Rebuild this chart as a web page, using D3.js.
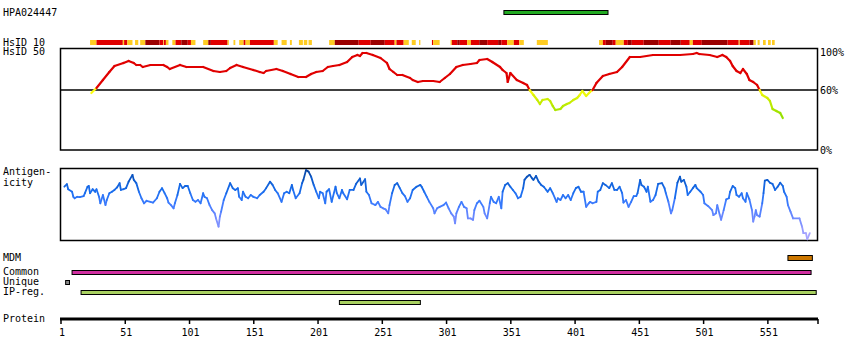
<!DOCTYPE html>
<html><head><meta charset="utf-8">
<script src="https://cdn.jsdelivr.net/npm/d3@7"></script>
<style>
body{margin:0;background:#fff}
svg{display:block}
text{font-family:"DejaVu Sans Mono",monospace;font-size:10px;fill:#000}
</style>
</head><body>
<svg id="chart" width="850" height="360"></svg>
<script>
// ---------- data ----------
const proteinLength = 590;
const tickResidues = [1, 51, 101, 151, 201, 251, 301, 351, 401, 451, 501, 551];
const antibodyName = "HPA024447";
const antibodyRanges = [[346, 427]];
const identityTicks = [100, 60, 0];
const identityThreshold = 60;
// HsID 10 blocks: [start, end, level] level 1 = low, 2 = mid, 3 = high
const hsid10 = [
  [24,29,1],[29,49.5,2],[49.5,50.5,1],[50.5,53,2],[53,57,1],[59,61.5,1],[63,67,1],[67,78,3],[78,81,2],[81,81.5,1],
  [81.5,83,2],[83,85,1],[88,90.5,1],[90.5,95,2],[95,100,3],[100,102.5,2],[102.5,106,1],[112,116,1],[116,118,3],
  [118,131,2],[131,132,1],[135.6,137,1],[140,143.5,1],[143.5,145,2],[145,148.4,1],[148.4,167,2],[167,170,1],
  [173,177,1],[179.5,181,1],[186.5,189.6,1],[190.3,193,1],[194,196.6,1],[210,214.4,1],[214.4,233,3],[233,242.4,2],
  [242.4,253.3,3],[253.3,261,2],[261,262.4,1],[262.4,268,2],[268,272,1],[274.3,277.4,1],[280,281,1],[290,291,2],
  [291,296,1],[304.5,305.5,1],[305.5,309.7,2],[309.7,311.7,3],[311.7,317.4,2],[317.4,320.3,1],[320.3,326.8,2],
  [326.8,333,3],[333,341.5,2],[341.5,344,3],[344,348.5,2],[348.5,353.7,1],[353.7,358,2],[358,361.5,1],
  [371.6,380.2,1],[420,423,1],[423,425.3,2],[425.3,430.7,3],[430.7,433,2],[433,439.3,1],[439.3,442.4,2],
  [442.4,445.5,3],[445.5,454.8,2],[454.8,466.5,3],[466.5,475.8,2],[475.8,483.6,3],[483.6,490.6,2],[490.6,493,1],
  [493,500,2],[500,520,3],[520,528.7,2],[528.7,529.5,1],[529.5,537.2,2],[537.2,540.3,3],[540.3,542,1],
  [543.4,545,1],[547.6,549.7,1],[551.5,553.6,1],[554.6,556.7,1]
];
// HsID 50 identity (%) by residue
const identity = [
  [25,57],[29,62],[34,70],[39,78],[43,84],[50,87],[54,89],[58,87],[60,85],[63,85],[65,83],[71,85],[81,85],[84,83],
  [86,81],[94,85],[99,83],[112,83],[120,79],[125,78],[130,79],[133,82],[138,85],[143,83],[151,80],[156,78],
  [159,77],[161,79],[169,81],[174,79],[180,76],[186,73],[192,73],[196,76],[200,78],[205,79],[209,83],[213,84],
  [218,85],[224,88],[228,93],[232,95],[234,94],[236,97],[239,97],[244,95],[250,92],[255,87],[257,81],[260,78],
  [263,75],[267,75],[273,72],[275,70],[279,68],[283,69],[291,69],[296,68],[300,72],[304,76],[309,83],[314,85],
  [320,86],[325,87],[327,90],[333,91],[337,88],[343,83],[345,80],[348,77],[349,68],[351,77],[356,70],[361,67],
  [364,65],[366,60],[369,55],[372,50],[374,46],[376,50],[380,51],[382,49],[384,44],[386,40],[390,41],[392,44],
  [395,46],[397,47],[400,50],[403,52],[405,55],[407,59],[410,54],[413,58],[415,60],[418,67],[423,74],[428,76],
  [434,78],[438,83],[444,93],[452,93],[462,95],[473,95],[483,95],[493,96],[496,97],[498,96],[506,95],[512,93],
  [516,95],[519,93],[522,89],[524,84],[527,79],[530,77],[532,81],[535,76],[537,70],[540,68],[543,65],[545,60],
  [547,55],[551,52],[553,49],[555,41],[558,39],[561,37],[563,32]
];
// Antigenicity score by residue
const antigenicity = [
  [4,0.48],[6,0.55],[7,0.41],[10,0.34],[11,0.20],[12,0.16],[14,0.20],[16,0.19],[19,0.22],[20,0.30],[22,0.48],[23,0.50],
  [24,0.30],[26,0.41],[28,0.34],[29,0.41],[31,0.20],[32,0.02],[34,0.25],[36,-0.03],[37,0.11],[39,0.30],[41,0.34],
  [43,0.39],[45,0.46],[47,0.58],[48,0.39],[50,0.41],[52,0.44],[54,0.62],[57,0.81],[58,0.67],[60,0.58],[62,0.34],
  [64,0.16],[66,0.02],[68,0.09],[71,0.06],[73,0.04],[76,0.16],[78,0.34],[80,0.44],[82,0.30],[84,0.16],[85,0.04],
  [87,-0.03],[89,-0.12],[90,0.02],[92,0.25],[94,0.56],[96,0.44],[98,0.50],[100,0.50],[102,0.30],[104,0.11],[106,0.06],
  [108,0.11],[110,0.02],[112,0.30],[113,0.20],[115,0.16],[117,-0.03],[119,-0.17],[121,-0.26],[122,-0.40],[124,-0.63],
  [125,-0.35],[126,-0.21],[128,0.11],[130,0.30],[133,0.58],[135,0.44],[137,0.39],[139,0.44],[140,0.20],[142,0.11],
  [143,0.34],[145,0.20],[147,0.16],[149,0.25],[151,0.20],[154,0.16],[156,0.25],[159,0.34],[161,0.44],[164,0.62],
  [166,0.53],[168,0.39],[170,0.30],[173,0.06],[175,0.30],[177,0.34],[179,0.30],[181,0.53],[182,0.39],[184,0.16],
  [187,0.30],[189,0.58],[190,0.67],[192,0.94],[194,0.90],[196,0.76],[198,0.53],[200,0.34],[202,0.16],[203,0.34],
  [205,0.30],[207,0.02],[208,0.34],[210,0.41],[212,0.06],[215,0.48],[216,0.30],[218,0.16],[220,0.39],[221,0.30],
  [224,0.13],[226,0.39],[229,0.39],[231,0.56],[234,0.71],[235,0.53],[238,0.69],[239,0.34],[241,0.25],[243,0.02],
  [246,-0.03],[248,0.06],[250,-0.08],[252,-0.12],[254,-0.15],[256,-0.26],[257,-0.03],[259,0.30],[261,0.53],[263,0.58],
  [265,0.44],[267,0.30],[269,0.22],[271,0.06],[273,0.16],[275,0.39],[278,0.48],[281,0.53],[282,0.48],[284,0.34],
  [286,0.20],[288,0.06],[291,-0.12],[292,-0.26],[294,-0.12],[296,-0.08],[299,-0.03],[301,0.04],[303,-0.12],[305,-0.26],
  [307,-0.35],[308,-0.54],[309,-0.26],[311,-0.08],[313,0.06],[315,-0.08],[317,-0.12],[318,-0.40],[320,-0.40],[322,-0.44],
  [323,-0.17],[325,0.02],[327,0.09],[330,-0.08],[331,-0.26],[333,-0.40],[335,0.02],[336,0.20],[338,0.06],[340,0.02],
  [342,0.20],[344,-0.12],[345,0.34],[347,0.53],[349,0.58],[351,0.48],[353,0.39],[355,0.30],[357,0.16],[359,0.20],
  [361,0.44],[362,0.67],[364,0.76],[366,0.81],[368,0.71],[369,0.67],[371,0.78],[373,0.62],[375,0.53],[377,0.48],
  [379,0.39],[380,0.34],[382,0.44],[384,0.30],[387,0.06],[388,0.16],[390,0.11],[392,0.25],[394,0.16],[396,0.25],
  [398,0.11],[400,0.30],[402,0.44],[404,0.48],[406,0.34],[408,0.34],[410,-0.08],[412,0.02],[413,0.06],[415,0.02],
  [418,0.06],[419,0.34],[421,0.39],[423,0.58],[425,0.53],[428,0.44],[430,0.58],[432,0.39],[434,0.39],[436,0.48],
  [438,0.30],[439,0.04],[441,0.11],[443,-0.08],[445,0.06],[447,0.22],[449,0.22],[450,0.30],[452,0.67],[453,0.53],
  [455,0.48],[457,0.34],[458,0.48],[460,0.06],[462,0.11],[464,0.25],[466,0.56],[469,0.58],[471,0.44],[472,0.30],
  [474,0.06],[476,-0.26],[477,-0.17],[479,0.16],[481,0.59],[483,0.76],[484,0.62],[486,0.67],[488,0.48],[489,0.25],
  [491,0.34],[493,0.44],[495,0.53],[496,0.44],[499,0.34],[501,0.25],[502,0.02],[505,-0.06],[508,-0.17],[509,-0.31],
  [511,-0.26],[512,-0.03],[514,-0.31],[515,-0.44],[517,-0.17],[519,0.13],[521,0.16],[522,0.34],[524,0.50],[526,0.44],
  [527,0.25],[529,0.20],[531,0.30],[532,0.16],[534,0.06],[535,0.30],[537,0.13],[539,-0.17],[540,-0.49],[541,-0.35],
  [542,-0.17],[543,-0.31],[545,-0.35],[547,0.02],[548,0.30],[549,0.65],[551,0.67],[553,0.59],[555,0.56],[557,0.39],
  [559,0.48],[561,0.59],[563,0.50],[564,0.34],[566,0.20],[567,-0.03],[569,-0.21],[571,-0.40],[576,-0.40],[578,-0.63],
  [579,-0.81],[581,-0.81],[582,-0.98],[584,-0.81]
];
const mdmRanges = [[567, 586]];
const commonRanges = [[10, 585]];
const uniqueRanges = [[5, 8]];
const ipRegRanges = [[17, 589], [218, 281]];

// ---------- drawing ----------
const svg = d3.select("#chart");
const x = d3.scaleLinear().domain([1, proteinLength]).range([60.5, 817.5]);

// labels on left
const labels = [
  [antibodyName, 16], ["HsID 10", 45.5], ["HsID 50", 55], ["Antigen-", 175], ["icity", 185.5],
  ["MDM", 261], ["Common", 275], ["Unique", 285], ["IP-reg.", 295], ["Protein", 322]
];
svg.selectAll("text.lab").data(labels).join("text").attr("class", "lab")
  .attr("x", 3).attr("y", d => d[1]).text(d => d[0]);

// range bars helper
function bars(data, y0, h, fill, cls) {
  svg.selectAll("rect." + cls).data(data).join("rect").attr("class", cls)
    .attr("x", d => x(d[0])).attr("y", y0)
    .attr("width", d => x(d[1]) - x(d[0])).attr("height", h)
    .attr("fill", fill).attr("stroke", "#000").attr("stroke-width", 1);
}
bars(antibodyRanges, 10.5, 4, "#22aa22", "ab");

// HsID 10 track
const hsColor = d3.scaleOrdinal().domain([1, 2, 3]).range(["#ffcc22", "#e00000", "#9b0000"]);
svg.selectAll("rect.hs").data(hsid10).join("rect").attr("class", "hs")
  .attr("x", d => x(d[0])).attr("y", 40).attr("width", d => x(d[1]) - x(d[0])).attr("height", 5)
  .attr("fill", d => hsColor(d[2]));

// identity plot
const yId = d3.scaleLinear().domain([0, 100]).range([150, 50]);
svg.append("rect").attr("x", x(1)).attr("y", 48.5).attr("width", x(proteinLength) - x(1))
  .attr("height", yId(0) - 48.5).attr("fill", "none").attr("stroke", "#000").attr("stroke-width", 1.5);
svg.append("line").attr("x1", x(1)).attr("x2", x(proteinLength))
  .attr("y1", yId(identityThreshold)).attr("y2", yId(identityThreshold))
  .attr("stroke", "#000").attr("stroke-width", 1.3);
svg.selectAll("text.pct").data(identityTicks).join("text").attr("class", "pct")
  .attr("x", 820).attr("y", d => yId(d) + (d === 100 ? 6 : 3.5)).text(d => d + "%");

const idLow = d3.scaleLinear().domain([60, 50, 30]).range(["#ffff10", "#ccee00", "#88dd00"]).clamp(true);
const idColor = v => v >= identityThreshold ? "#e00000" : idLow(v);
const idSegs = d3.pairs(identity);
svg.selectAll("line.id").data(idSegs).join("line").attr("class", "id")
  .attr("x1", d => x(d[0][0])).attr("y1", d => yId(d[0][1]))
  .attr("x2", d => x(d[1][0])).attr("y2", d => yId(d[1][1]))
  .attr("stroke", d => idColor((d[0][1] + d[1][1]) / 2))
  .attr("stroke-width", 2.2).attr("stroke-linecap", "round");

// antigenicity plot
const yAg = d3.scaleLinear().domain([-1, 1]).range([240, 168]);
svg.append("rect").attr("x", x(1)).attr("y", yAg(1) + 0.5).attr("width", x(proteinLength) - x(1))
  .attr("height", yAg(-1) - yAg(1)).attr("fill", "none").attr("stroke", "#000").attr("stroke-width", 1.5);
const agColor = d3.scaleLinear().domain([1, 0.7, 0.35, 0, -0.35, -1])
  .range(["#0a3a8a", "#0b58c8", "#1a6ef0", "#3f7cff", "#6b88ff", "#b4aaff"]).clamp(true);
const agSegs = d3.pairs(antigenicity);
svg.selectAll("line.ag").data(agSegs).join("line").attr("class", "ag")
  .attr("x1", d => x(d[0][0])).attr("y1", d => yAg(d[0][1]))
  .attr("x2", d => x(d[1][0])).attr("y2", d => yAg(d[1][1]))
  .attr("stroke", d => agColor((d[0][1] + d[1][1]) / 2))
  .attr("stroke-width", 1.8).attr("stroke-linecap", "round");

// bottom tracks
bars(mdmRanges, 255.5, 5, "#cc7700", "mdm");
bars(commonRanges, 270.5, 4, "#d02ea0", "common");
bars(uniqueRanges, 280.5, 4, "#888888", "unique");
bars(ipRegRanges.slice(0, 1), 290.5, 4, "#a8d060", "ip1");
bars(ipRegRanges.slice(1), 300.5, 4, "#a8d060", "ip2");

// protein axis
svg.append("rect").attr("x", x(1) - 0.5).attr("y", 317.5).attr("width", x(proteinLength) - x(1) + 1)
  .attr("height", 3).attr("fill", "#000");
const axis = d3.axisBottom(x).tickValues(tickResidues.concat([proteinLength]))
  .tickFormat(d => tickResidues.includes(d) ? String(d) : "").tickSize(5).tickSizeOuter(0).tickPadding(5);
const ag = svg.append("g").attr("transform", "translate(0,319)").call(axis);
ag.select(".domain").remove();
ag.selectAll(".tick line").attr("stroke", "#000").attr("stroke-width", 1.5);
ag.selectAll(".tick text").attr("font-family", "DejaVu Sans Mono").attr("font-size", 9.5).attr("fill", "#000").attr("dx", 1);
</script>
</body></html>
